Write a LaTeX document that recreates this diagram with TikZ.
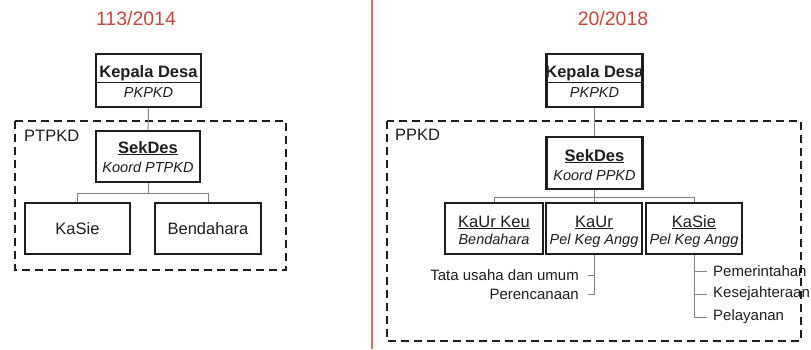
\documentclass[tikz,border=0pt]{standalone}
\usepackage{fontspec}
\setmainfont{Liberation Sans}
\definecolor{titlered}{RGB}{196,72,62}
\definecolor{linered}{RGB}{222,112,92}
\definecolor{ink}{RGB}{30,30,30}
\definecolor{conngray}{RGB}{130,130,130}
\newcommand{\fbig}{\fontsize{16.5}{19}\selectfont}
\newcommand{\fsmall}{\fontsize{14.5}{17}\selectfont}
\newcommand{\flist}{\fontsize{15}{17}\selectfont}
\tikzset{
  orgbox/.style={draw=ink, line width=2.7pt, fill=white, inner sep=0pt},
  grp/.style={draw=ink, line width=2.7pt, dash pattern=on 8pt off 5pt},
  conn/.style={draw=conngray, line width=1pt},
  title/.style={text=titlered, font=\fontsize{19.5}{22}\selectfont, inner sep=0pt},
  lbl/.style={text=ink, font=\fbig, inner sep=0pt},
  headtxt/.style={text=ink, font=\fbig, inner sep=0pt, anchor=base},
  roletxt/.style={text=ink, font=\fsmall\itshape, inner sep=0pt, anchor=base},
  sub/.style={text=ink, font=\flist, inner sep=0pt},
}
\begin{document}
\begin{tikzpicture}[x=1pt,y=-1pt]
\useasboundingbox (0,0) rectangle (811,349);
% separator
\coordinate (rtop) at (372,0);
\coordinate (rbot) at (372,349);
\draw[linered, line width=1.5pt] (rtop) -- (rbot);
% titles
\node[title] (t1) at (136,19) {113/2014};
\node[title] (t2) at (613,19) {20/2018};

% ---------- left ----------
\draw[grp] (15,121) rectangle (286,270);
\node[lbl, anchor=west] (ptpkd) at (24,136) {PTPKD};
\node[orgbox, minimum width=105pt, minimum height=53pt] (kd1) at (148.5,80.5) {};
\node[headtxt] (kd1a) at (148.5,77) {\textbf{Kepala Desa}};
\node[roletxt] (kd1b) at (148.5,97) {PKPKD};
\draw[ink, line width=1.2pt] ([yshift=-2pt]kd1.west) -- ([yshift=-2pt]kd1.east);
\node[orgbox, minimum width=104pt, minimum height=51pt] (sd1) at (148,156.5) {};
\node[headtxt] (sd1a) at (148,153) {\underline{\textbf{SekDes}}};
\node[roletxt] (sd1b) at (148,172) {Koord PTPKD};
\node[orgbox, minimum width=105pt, minimum height=51pt] (ks1) at (77.5,228.5) {};
\node[headtxt] (ks1a) at (77.5,234.5) {KaSie};
\node[orgbox, minimum width=106pt, minimum height=51pt] (bd1) at (208,228.5) {};
\node[headtxt] (bd1a) at (208,234.5) {Bendahara};
\coordinate (bus1) at (148,193);
\draw[conn] (kd1.south) -- (sd1.north);
\draw[conn] (sd1.south) -- (bus1);
\draw[conn] (bus1) -| (ks1.north);
\draw[conn] (bus1) -| (bd1.north);

% ---------- right ----------
\draw[grp] (387,121) rectangle (801,341);
\node[lbl, anchor=west] (ppkd) at (395,135) {PPKD};
\node[orgbox, minimum width=96pt, minimum height=53pt] (kd2) at (594.5,80.5) {};
\node[headtxt] (kd2a) at (594.5,77) {\textbf{Kepala Desa}};
\node[roletxt] (kd2b) at (594.5,97) {PKPKD};
\draw[ink, line width=1.2pt] ([yshift=-2pt]kd2.west) -- ([yshift=-2pt]kd2.east);
\node[orgbox, minimum width=96pt, minimum height=52pt] (sd2) at (594.5,163) {};
\node[headtxt] (sd2a) at (594.5,161) {\underline{\textbf{SekDes}}};
\node[roletxt] (sd2b) at (594.5,180) {Koord PPKD};
\node[orgbox, minimum width=98pt, minimum height=51pt] (b1) at (494,228.5) {};
\node[headtxt] (b1a) at (494,227) {\underline{KaUr Keu}};
\node[roletxt] (b1b) at (494,244) {Bendahara};
\node[orgbox, minimum width=96pt, minimum height=51pt] (b2) at (594,228.5) {};
\node[headtxt] (b2a) at (594,227) {\underline{KaUr}};
\node[roletxt] (b2b) at (594,244) {Pel Keg Angg};
\node[orgbox, minimum width=96pt, minimum height=51pt] (b3) at (694,228.5) {};
\node[headtxt] (b3a) at (694,227) {\underline{KaSie}};
\node[roletxt] (b3b) at (694,244) {Pel Keg Angg};
\coordinate (bus2) at (594.5,197);
\draw[conn] (kd2.south) -- (sd2.north);
\draw[conn] (sd2.south) -- (bus2);
\draw[conn] (bus2) -| (b1.north);
\draw[conn] (bus2) -| (b2.north);
\draw[conn] (bus2) -| (b3.north);

% sub-lists of KaUr
\node[sub, anchor=east] (s21) at (579,275) {Tata usaha dan umum};
\node[sub, anchor=east] (s22) at (579,294) {Perencanaan};
\coordinate (k21) at (588,275);
\coordinate (k22) at (588,294);
\draw[conn] (b2.south) |- (k21);
\draw[conn] (b2.south) |- (k22);

% sub-lists of KaSie
\node[sub, anchor=west] (s31) at (713,271) {Pemerintahan};
\node[sub, anchor=west] (s32) at (713,294) {Kesejahteraan};
\node[sub, anchor=west] (s33) at (713,317) {Pelayanan};
\coordinate (k31) at (707,271);
\coordinate (k32) at (707,294);
\coordinate (k33) at (707,317);
\draw[conn] (b3.south) |- (k31);
\draw[conn] (b3.south) |- (k32);
\draw[conn] (b3.south) |- (k33);
\end{tikzpicture}
\end{document}
